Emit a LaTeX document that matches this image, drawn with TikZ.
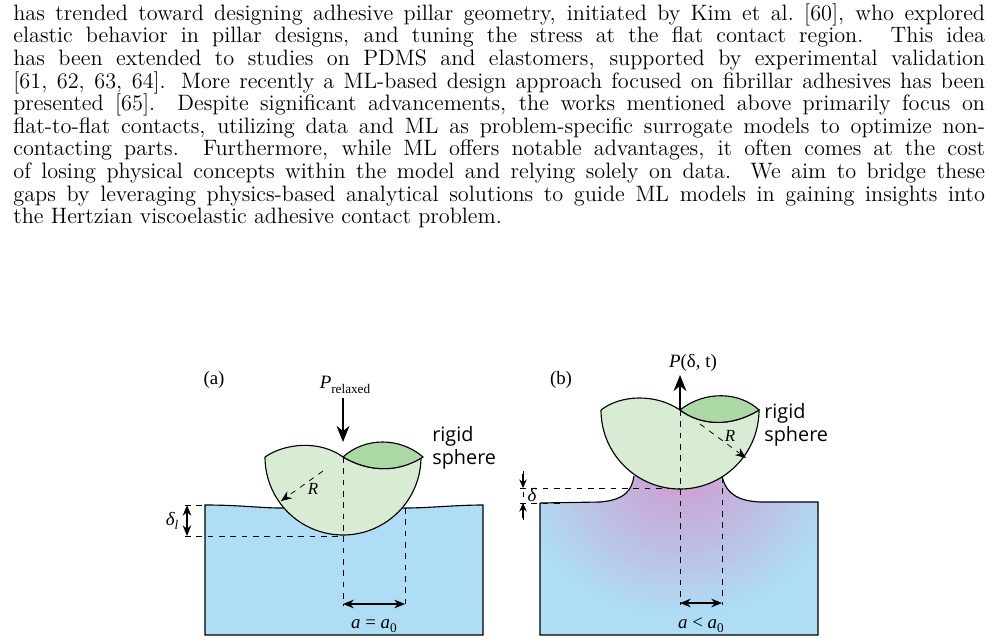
\documentclass[tikz,border=0pt]{standalone}
\usepackage{fontspec}
\newfontfamily\figserif{Liberation Serif}
\newfontfamily\figsans{Open Sans}
\usetikzlibrary{arrows.meta}
\definecolor{bulk}{RGB}{174,221,245}
\definecolor{ball}{RGB}{216,235,211}
\definecolor{cap}{RGB}{172,216,166}
\definecolor{neck}{RGB}{206,158,210}
\newcommand\parafont{\fontsize{11.8}{12}\selectfont\lineskiplimit-20pt\relax}
\begin{document}
\begin{tikzpicture}[x=0.53pt,y=-0.53pt,
	dim/.style={dashed,thin},
	meas/.style={{Stealth[length=2mm,width=1.6mm]}-{Stealth[length=2mm,width=1.6mm]},semithick},
	load/.style={-{Stealth[length=3mm,width=2.4mm]},semithick},
	lbl/.style={font=\figserif,inner sep=1pt},
	tag/.style={font=\figsans\fontsize{10.5}{12}\selectfont,align=left,inner sep=0,anchor=west}]
	\useasboundingbox (0,0) rectangle (998,641);
	
	%PARAGRAPH
	\node[anchor=north west,inner sep=0,text width=515pt,align=justify,font=\parafont] (para) at (13,3) {%
		has trended toward designing adhesive pillar geometry, initiated by Kim et al.~[60], who explored\linebreak
		elastic behavior in pillar designs, and tuning the stress at the flat contact region. This idea\linebreak
		has been extended to studies on PDMS and elastomers, supported by experimental validation\linebreak
		{[61, 62, 63, 64]}. More recently a ML-based design approach focused on fibrillar adhesives has been\linebreak
		presented [65]. Despite significant advancements, the works mentioned above primarily focus on\linebreak
		flat-to-flat contacts, utilizing data and ML as problem-specific surrogate models to optimize non-\linebreak
		contacting parts. Furthermore, while ML offers notable advantages, it often comes at the cost\linebreak
		of losing physical concepts within the model and relying solely on data. We aim to bridge these\linebreak
		gaps by leveraging physics-based analytical solutions to guide ML models in gaining insights into\linebreak
		the Hertzian viscoelastic adhesive contact problem.};
	
	%PANEL A: SUBSTRATE
	\draw[fill=bulk,semithick] (205,505) .. controls (240,505) and (260,508) .. (281,508) -- (405,508)
		.. controls (430,508) and (455,505) .. (483,505) -- (483,635) -- (205,635) -- cycle;
	%PANEL A: SPHERE
	\draw[fill=ball,semithick] (265,457) arc[start angle=180,end angle=0,radius=78]
		.. controls (395,475) and (365,470) .. (343,457)
		.. controls (320,440) and (285,443) .. (265,457);
	\draw[fill=cap,semithick] (343,457) .. controls (365,437) and (400,437) .. (423,457)
		.. controls (395,475) and (365,470) .. (343,457);
	\coordinate (ra0) at (323,471); \coordinate (ra1) at (281,501);
	\draw[dim,-{Stealth[length=2mm,width=1.6mm]}] (ra0) -- (ra1);
	\node[lbl,font=\figserif\itshape\small] (Ra) at (313,489) {R};
	%
	\coordinate (pa0) at (343,398); \coordinate (pa1) at (343,442);
	\draw[load] (pa0) -- (pa1);
	\node[lbl] (Pa) at (345,385) {{\itshape P}\raisebox{-0.5ex}{\scriptsize relaxed}};
	\node[lbl] (taga) at (214,380) {(a)};
	\node[tag] (rsa) at (432,448) {rigid\\sphere};
	%
	\draw[dim] (343,457) -- (343,606);
	\draw[dim] (405,508) -- (405,606);
	\draw[dim] (185,505) -- (205,505);
	\draw[dim] (185,536) -- (343,536);
	\coordinate (aa0) at (343,604); \coordinate (aa1) at (405,604);
	\draw[meas] (aa0) -- (aa1);
	\node[lbl] (aeq) at (374,626) {{\itshape a} = {\itshape a}\raisebox{-0.4ex}{\scriptsize 0}};
	\coordinate (da0) at (187,505); \coordinate (da1) at (187,536);
	\draw[meas] (da0) -- (da1);
	\node[lbl] (dl) at (172,521) {{\itshape δ}\raisebox{-0.4ex}{\scriptsize\itshape l}};
	
	%PANEL B: SUBSTRATE
	\def\neckpath{(540,503) -- (600,502) .. controls (625,500) and (632,490) .. (634,476) -- (722,476)
		.. controls (726,495) and (740,501) .. (760,502) -- (818,502) -- (818,635) -- (540,635) -- cycle}
	\fill[bulk] \neckpath;
	\begin{scope}
		\clip \neckpath;
		\foreach \k [evaluate=\k as \p using {int(3.3*\k)}] in {0,...,30}
			\fill[neck!\p!bulk] (680,470) ellipse[x radius={165-5*\k},y radius={150-4.6*\k}];
	\end{scope}
	\draw[semithick] (540,503) -- (600,502) .. controls (625,500) and (632,490) .. (634,476);
	\draw[semithick] (722,476) .. controls (726,495) and (740,501) .. (760,502) -- (818,502) -- (818,635) -- (540,635) -- (540,503);
	%PANEL B: SPHERE
	\draw[fill=ball,semithick] (601,410) arc[start angle=180,end angle=0,radius=79]
		.. controls (730,428) and (700,425) .. (680,410)
		.. controls (655,393) and (620,395) .. (601,410);
	\draw[fill=cap,semithick] (680,410) .. controls (705,390) and (740,392) .. (759,410)
		.. controls (730,428) and (700,425) .. (680,410);
	\coordinate (rb0) at (700,424); \coordinate (rb1) at (746,458);
	\draw[dim,-{Stealth[length=2mm,width=1.6mm]}] (rb0) -- (rb1);
	\node[lbl,font=\figserif\itshape\small] (Rb) at (730,436) {R};
	%
	\coordinate (pb0) at (680,410); \coordinate (pb1) at (680,375);
	\draw[load] (pb0) -- (pb1);
	\node[lbl] (Pb) at (693,363) {{\itshape P}(δ, t)};
	\node[lbl] (tagb) at (561,380) {(b)};
	\node[tag] (rsb) at (764,425) {rigid\\sphere};
	%
	\draw[dim] (680,410) -- (680,605);
	\draw[dim] (722,477) -- (722,605);
	\draw[dim] (520,488) -- (680,488);
	\draw[dim] (520,503) -- (565,503);
	\draw[dim] (523,520) -- (523,471);
	\coordinate (ab0) at (680,603); \coordinate (ab1) at (722,603);
	\draw[meas] (ab0) -- (ab1);
	\node[lbl] (alt) at (701,625) {{\itshape a} < {\itshape a}\raisebox{-0.4ex}{\scriptsize 0}};
	\coordinate (db0) at (523,474); \coordinate (db1) at (523,488);
	\coordinate (db2) at (523,518); \coordinate (db3) at (523,503);
	\draw[semithick,-{Stealth[length=1.6mm,width=1.4mm]}] (db0) -- (db1);
	\draw[semithick,-{Stealth[length=1.6mm,width=1.4mm]}] (db2) -- (db3);
	\node[lbl,font=\figserif\itshape] (db) at (532,495) {δ};
\end{tikzpicture}
\end{document}
